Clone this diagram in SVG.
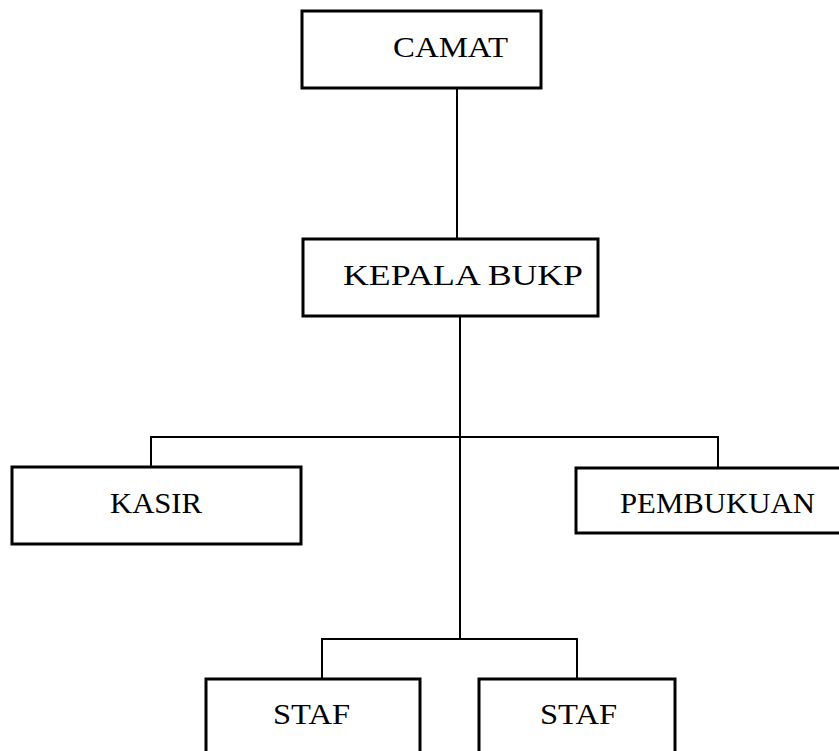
<svg xmlns="http://www.w3.org/2000/svg" width="839" height="751" viewBox="0 0 839 751">
<style>
.box{fill:#fff;stroke:#000;stroke-width:3}
.t{font-family:"Liberation Serif","Times New Roman",serif;font-size:30px;fill:#000}
.c{fill:none;stroke:#000;stroke-width:2}
</style>
<rect width="839" height="751" fill="#fff"/>
<g id="connectors">
<line class="c" x1="457" y1="88" x2="457" y2="239" stroke-width="1.5"/>
<line class="c" x1="460" y1="316" x2="460" y2="639" stroke-width="1.5"/>
<polyline class="c" points="151,467 151,437 718,437 718,468" stroke-width="2.5"/>
<polyline class="c" points="322,679 322,639 577,639 577,679" stroke-width="2.5"/>
</g>
<g id="camat">
<rect class="box" x="302" y="11" width="239" height="77"/>
<text class="t" x="393" y="57" textLength="115" lengthAdjust="spacingAndGlyphs">CAMAT</text>
</g>
<g id="kepala">
<rect class="box" x="303" y="239" width="295" height="77"/>
<text class="t" x="343" y="285" textLength="240" lengthAdjust="spacingAndGlyphs">KEPALA BUKP</text>
</g>
<g id="kasir">
<rect class="box" x="12" y="467" width="289" height="77"/>
<text class="t" x="110" y="513" textLength="92" lengthAdjust="spacingAndGlyphs">KASIR</text>
</g>
<g id="pembukuan">
<rect class="box" x="576" y="468" width="275" height="65"/>
<text class="t" x="620" y="513" textLength="195" lengthAdjust="spacingAndGlyphs">PEMBUKUAN</text>
</g>
<g id="staf1">
<rect class="box" x="206" y="679" width="214" height="90"/>
<text class="t" x="273" y="724" textLength="77" lengthAdjust="spacingAndGlyphs">STAF</text>
</g>
<g id="staf2">
<rect class="box" x="479" y="679" width="196" height="90"/>
<text class="t" x="540" y="724" textLength="77" lengthAdjust="spacingAndGlyphs">STAF</text>
</g>
</svg>
